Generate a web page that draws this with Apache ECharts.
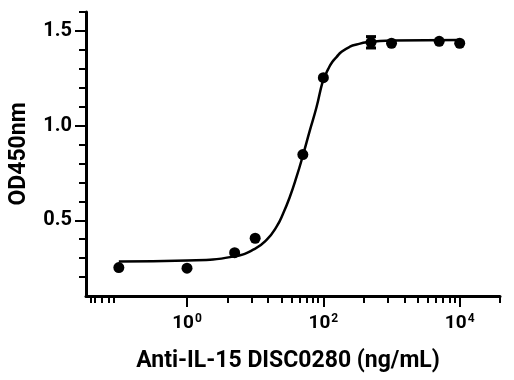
<!DOCTYPE html>
<html>
<head>
<meta charset="utf-8">
<script src="https://cdn.jsdelivr.net/npm/echarts@6/dist/echarts.min.js"></script>
<style>
  html, body { margin: 0; padding: 0; background: #fff; }
  #container { width: 514px; height: 380px; }
</style>
</head>
<body>
<div id="container"></div>
<script>
// measured points
var doseX = [0.1, 1, 5, 10, 50, 100, 500, 1000, 5000, 10000];
var odY = [0.25, 0.247, 0.329, 0.405, 0.847, 1.253, 1.44, 1.435, 1.445, 1.435];
var odErr = [0, 0, 0, 0, 0, 0, 0.03, 0, 0, 0];

// fitted curve
var curveX = [0.1, 1, 4.77, 9.9, 14.7, 20.6, 25.8, 32.3, 40.5, 49.5, 63.4, 79.5, 97.2, 107, 117.5, 135, 156, 185, 250, 307, 430, 1000, 10000];
var curveY = [0.282, 0.287, 0.308, 0.349, 0.396, 0.466, 0.537, 0.624, 0.73, 0.835, 0.975, 1.098, 1.23, 1.266, 1.298, 1.336, 1.362, 1.39, 1.418, 1.428, 1.44, 1.449, 1.452];

// ticks
var xMajor = [1, 100, 10000];
var xMinor = [0.039, 0.045, 0.057, 0.071, 0.084,
              3.9, 8.9, 15.5, 24.3, 34, 45, 57, 71, 84,
              390, 890, 1550, 2430, 3400, 4500, 5700, 7100, 8400,
              39000];
var yMajor = [0.5, 1.0, 1.5];
var yMinor = [0.2, 0.3, 0.4, 0.6, 0.7, 0.8, 0.9, 1.1, 1.2, 1.3, 1.4, 1.6];

var dom = document.getElementById("container");
var myChart = echarts.init(dom);
var option = null;

var font = 'Roboto';

option = {
    backgroundColor: '#fff',
    animation: false,
    grid: {
        left: 86,
        top: 12,
        width: 414,
        height: 284
    },
    xAxis: [
        {
            type: 'log',
            logBase: 10,
            min: 0.033,
            max: 39000,
            position: 'bottom',
            name: 'Anti-IL-15 DISC0280 (ng/mL)',
            nameLocation: 'middle',
            nameGap: 54,
            nameTextStyle: {
                fontFamily: font,
                fontWeight: 'bold',
                fontSize: 23,
                color: '#000',
                padding: [0, 10, 0, 0]
            },
            axisLine: { show: true, lineStyle: { color: '#000', width: 3 } },
            axisTick: {
                show: true,
                length: 11,
                customValues: xMajor,
                lineStyle: { color: '#000', width: 2 }
            },
            axisLabel: {
                show: true,
                customValues: xMajor,
                margin: 17,
                fontFamily: font,
                fontWeight: 'bold',
                fontSize: 19,
                color: '#000',
                formatter: function (v) {
                    return '10{sup|' + Math.round(Math.log10(v)) + '}';
                },
                rich: {
                    sup: {
                        fontFamily: font,
                        fontWeight: 'bold',
                        fontSize: 12,
                        color: '#000',
                        padding: [0, 0, 9, 1]
                    }
                }
            },
            splitLine: { show: false }
        },
        {
            type: 'log',
            logBase: 10,
            min: 0.033,
            max: 39000,
            position: 'bottom',
            axisLine: { show: false },
            axisTick: {
                show: true,
                length: 7,
                customValues: xMinor,
                lineStyle: { color: '#000', width: 2 }
            },
            axisLabel: { show: false },
            splitLine: { show: false }
        }
    ],
    yAxis: [
        {
            type: 'value',
            min: 0.1,
            max: 1.6,
            position: 'left',
            name: 'OD450nm',
            nameLocation: 'middle',
            nameGap: 55,
            nameTextStyle: {
                fontFamily: font,
                fontWeight: 'bold',
                fontSize: 23,
                color: '#000'
            },
            axisLine: { show: true, lineStyle: { color: '#000', width: 3 } },
            axisTick: {
                show: true,
                length: 11,
                customValues: yMajor,
                lineStyle: { color: '#000', width: 2 }
            },
            axisLabel: {
                show: true,
                customValues: yMajor,
                margin: 14,
                fontFamily: font,
                fontWeight: 'bold',
                fontSize: 20,
                color: '#000',
                formatter: function (v) { return v.toFixed(1); }
            },
            splitLine: { show: false }
        },
        {
            type: 'value',
            min: 0.1,
            max: 1.6,
            position: 'left',
            axisLine: { show: false },
            axisTick: {
                show: true,
                length: 7,
                customValues: yMinor,
                lineStyle: { color: '#000', width: 2 }
            },
            axisLabel: { show: false },
            splitLine: { show: false }
        }
    ],
    series: [
        {
            name: 'fit',
            type: 'line',
            data: curveX.map(function (x, i) { return [x, curveY[i]]; }),
            smooth: true,
            showSymbol: false,
            lineStyle: { color: '#000', width: 2.5 },
            z: 2
        },
        {
            name: 'error',
            type: 'custom',
            data: doseX.map(function (x, i) { return [x, odY[i] - odErr[i], odY[i] + odErr[i]]; }),
            renderItem: function (params, api) {
                var lo = api.coord([api.value(0), api.value(1)]);
                var hi = api.coord([api.value(0), api.value(2)]);
                if (Math.abs(lo[1] - hi[1]) < 1) return;
                var w = 5;
                var st = { stroke: '#000', lineWidth: 3 };
                return {
                    type: 'group',
                    children: [
                        { type: 'line', shape: { x1: lo[0], y1: lo[1], x2: hi[0], y2: hi[1] }, style: st },
                        { type: 'line', shape: { x1: lo[0] - w, y1: lo[1], x2: lo[0] + w, y2: lo[1] }, style: st },
                        { type: 'line', shape: { x1: hi[0] - w, y1: hi[1], x2: hi[0] + w, y2: hi[1] }, style: st }
                    ]
                };
            },
            z: 3
        },
        {
            name: 'OD450',
            type: 'scatter',
            data: doseX.map(function (x, i) { return [x, odY[i]]; }),
            symbol: 'circle',
            symbolSize: 11,
            itemStyle: { color: '#000', opacity: 1 },
            z: 4
        }
    ]
};

if (option && typeof option === "object") {
    myChart.setOption(option, true);
}
</script>
</body>
</html>
